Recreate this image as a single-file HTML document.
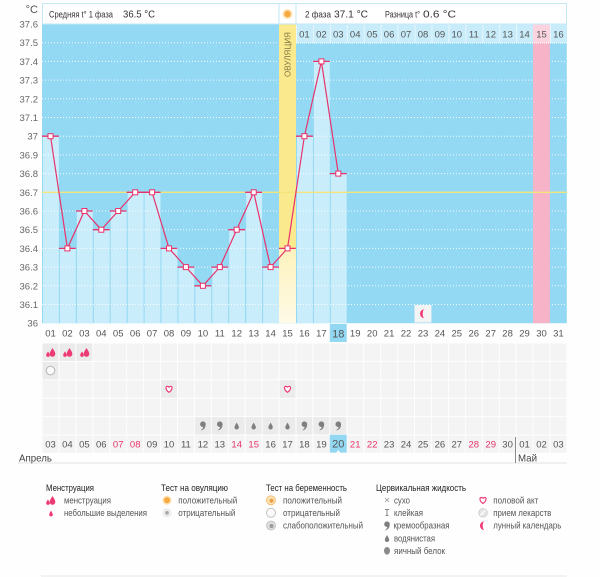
<!DOCTYPE html>
<html><head><meta charset="utf-8"><style>
html,body{margin:0;padding:0;background:#fefefe;}
svg{display:block;}
text{font-family:"Liberation Sans","DejaVu Sans",sans-serif;}
</style></head><body>
<svg width="600" height="577" viewBox="0 0 600 577" xmlns="http://www.w3.org/2000/svg">
<defs>
<pattern id="g" x="42" y="343" width="16.935" height="18.4" patternUnits="userSpaceOnUse"><rect x="0.5" y="0.5" width="15.9" height="17.4" fill="#f4f4f4"/></pattern>
<pattern id="hd" x="296" y="24" width="16.935" height="19" patternUnits="userSpaceOnUse"><rect x="0" y="0" width="16.935" height="19" fill="#c8ecfa"/><rect x="0" y="0" width="1" height="19" fill="#e6f7fd"/></pattern>
<linearGradient id="ly" x1="0" y1="0" x2="0" y2="1"><stop offset="0" stop-color="#fdf2bd"/><stop offset="1" stop-color="#fefae6"/></linearGradient>
</defs>
<rect width="600" height="577" fill="#fefefe"/>
<!-- chart body -->
<rect x="42" y="24" width="524.8" height="299.2" fill="#94d9f3"/>
<!-- bars -->
<g fill="#c9edfb">
<rect x="43" y="136.2" width="15.9" height="187"/>
<rect x="59.9" y="248.4" width="15.9" height="74.8"/>
<rect x="76.9" y="211" width="15.9" height="112.2"/>
<rect x="93.8" y="229.7" width="15.9" height="93.5"/>
<rect x="110.7" y="211" width="15.9" height="112.2"/>
<rect x="127.7" y="192.3" width="15.9" height="130.9"/>
<rect x="144.6" y="192.3" width="15.9" height="130.9"/>
<rect x="161.5" y="248.4" width="15.9" height="74.8"/>
<rect x="178.4" y="267.1" width="15.9" height="56.1"/>
<rect x="195.4" y="285.8" width="15.9" height="37.4"/>
<rect x="212.3" y="267.1" width="15.9" height="56.1"/>
<rect x="229.2" y="229.7" width="15.9" height="93.5"/>
<rect x="246.2" y="192.3" width="15.9" height="130.9"/>
<rect x="263.1" y="267.1" width="15.9" height="56.1"/>
<rect x="297" y="136.2" width="15.9" height="187"/>
<rect x="313.9" y="61.4" width="15.9" height="261.8"/>
<rect x="330.8" y="173.6" width="15.9" height="149.6"/>
</g>
<!-- dotted grid -->
<g stroke="#ffffff" stroke-width="1" stroke-dasharray="1 2" opacity="0.9">
<path d="M42,42.7H566.8M42,61.4H566.8M42,80.1H566.8M42,98.8H566.8M42,117.5H566.8M42,136.2H566.8M42,154.9H566.8M42,173.6H566.8M42,211H566.8M42,229.7H566.8M42,248.4H566.8M42,267.1H566.8M42,285.8H566.8M42,304.5H566.8"/>
</g>
<!-- ovulation column -->
<rect x="279" y="24" width="17" height="224.4" fill="#fbe98e"/>
<rect x="279" y="248.4" width="17" height="74.8" fill="url(#ly)"/>
<text transform="translate(290.5,54.5) rotate(-90)" text-anchor="middle" font-size="8.5" fill="#7f7444" textLength="45" lengthAdjust="spacingAndGlyphs">ОВУЛЯЦИЯ</text>
<!-- pink column -->
<rect x="533" y="43" width="16.9" height="280.2" fill="#f7b3c7"/>
<!-- header day row -->
<rect x="296" y="24" width="270.8" height="19" fill="url(#hd)"/>
<rect x="533" y="24" width="16.9" height="19" fill="#fcd4df"/>
<path d="M296,43H566.8" stroke="#ffffff" stroke-dasharray="1 1" stroke-width="1"/>
<g font-size="9.5" fill="#555" text-anchor="middle">
<text x="304.4" y="37.5">01</text><text x="321.4" y="37.5">02</text><text x="338.3" y="37.5">03</text><text x="355.2" y="37.5">04</text><text x="372.2" y="37.5">05</text><text x="389.1" y="37.5">06</text><text x="406" y="37.5">07</text><text x="423" y="37.5">08</text><text x="439.9" y="37.5">09</text><text x="456.8" y="37.5">10</text><text x="473.8" y="37.5">11</text><text x="490.7" y="37.5">12</text><text x="507.6" y="37.5">13</text><text x="524.5" y="37.5">14</text><text x="541.5" y="37.5">15</text><text x="558.4" y="37.5">16</text>
</g>
<!-- cover line -->
<path d="M42,192.3H566.8" stroke="#f4e47a" stroke-width="1.3"/>
<!-- ticks -->
<path d="M42,136.2h16.9M58.9,248.4h16.9M75.9,211h16.9M92.8,229.7h16.9M109.7,211h16.9M126.7,192.3h16.9M143.6,192.3h16.9M160.5,248.4h16.9M177.4,267.1h16.9M194.4,285.8h16.9M211.3,267.1h16.9M228.2,229.7h16.9M245.2,192.3h16.9M262.1,267.1h16.9M279,248.4h16.9M296,136.2h16.9M312.9,61.4h16.9M329.8,173.6h16.9" stroke="#e8336b" stroke-width="1.3"/>
<polyline points="50.5,136.2 67.4,248.4 84.4,211 101.3,229.7 118.2,211 135.2,192.3 152.1,192.3 169,248.4 185.9,267.1 202.9,285.8 219.8,267.1 236.7,229.7 253.7,192.3 270.6,267.1 287.5,248.4 304.4,136.2 321.4,61.4 338.3,173.6" fill="none" stroke="#e8336b" stroke-width="1.2"/>
<g fill="#ffffff" stroke="#e8336b" stroke-width="1">
<rect x="48" y="133.7" width="5" height="5"/><rect x="64.9" y="245.9" width="5" height="5"/><rect x="81.9" y="208.5" width="5" height="5"/><rect x="98.8" y="227.2" width="5" height="5"/><rect x="115.7" y="208.5" width="5" height="5"/><rect x="132.7" y="189.8" width="5" height="5"/><rect x="149.6" y="189.8" width="5" height="5"/><rect x="166.5" y="245.9" width="5" height="5"/><rect x="183.4" y="264.6" width="5" height="5"/><rect x="200.4" y="283.3" width="5" height="5"/><rect x="217.3" y="264.6" width="5" height="5"/><rect x="234.2" y="227.2" width="5" height="5"/><rect x="251.2" y="189.8" width="5" height="5"/><rect x="268.1" y="264.6" width="5" height="5"/><rect x="285" y="245.9" width="5" height="5"/><rect x="301.9" y="133.7" width="5" height="5"/><rect x="318.9" y="58.9" width="5" height="5"/><rect x="335.8" y="171.1" width="5" height="5"/>
</g>
<!-- lunar cell -->
<rect x="414.5" y="305" width="16.9" height="17.5" fill="#f4f4f4"/>
<path transform="translate(423.5,313.7)" d="M1,-4.5A4.5,4.5 0 0 0 1,4.5A1.8,4.5 0 0 1 1,-4.5Z" fill="#ee3a74"/>
<!-- header boxes -->
<rect x="42.5" y="3.5" width="524" height="20.5" fill="#ffffff" stroke="#c3e7f5" stroke-width="1"/>
<path d="M279,3.5V24M296,3.5V24" stroke="#c3e7f5" stroke-width="1"/>
<circle cx="287.5" cy="14" r="5" fill="#fde3b3"/>
<circle cx="287.5" cy="14" r="3.3" fill="#f6a843"/>
<text x="49" y="17.5" font-size="9" fill="#333" textLength="64" lengthAdjust="spacingAndGlyphs">Средняя t° 1 фаза</text>
<text x="123" y="17.5" font-size="10.5" fill="#333" textLength="32" lengthAdjust="spacingAndGlyphs">36.5 °C</text>
<text x="305" y="17.5" font-size="9" fill="#333" textLength="26" lengthAdjust="spacingAndGlyphs">2 фаза</text>
<text x="334" y="17.5" font-size="10.5" fill="#333" textLength="34" lengthAdjust="spacingAndGlyphs">37.1 °C</text>
<text x="385" y="17.5" font-size="9" fill="#333" textLength="35" lengthAdjust="spacingAndGlyphs">Разница t°</text>
<text x="423" y="17.5" font-size="10.5" fill="#333" textLength="33" lengthAdjust="spacingAndGlyphs">0.6 °C</text>
<!-- y axis -->
<text x="38" y="13" font-size="11" fill="#555" text-anchor="end">°C</text>
<g font-size="9.5" fill="#666" text-anchor="end">
<text x="38" y="27.5">37.6</text><text x="38" y="46.2">37.5</text><text x="38" y="64.9">37.4</text><text x="38" y="83.6">37.3</text><text x="38" y="102.3">37.2</text><text x="38" y="121">37.1</text><text x="38" y="139.7">37</text><text x="38" y="158.4">36.9</text><text x="38" y="177.1">36.8</text><text x="38" y="195.8">36.7</text><text x="38" y="214.5">36.6</text><text x="38" y="233.2">36.5</text><text x="38" y="251.9">36.4</text><text x="38" y="270.6">36.3</text><text x="38" y="289.3">36.2</text><text x="38" y="308">36.1</text><text x="38" y="326.7">36</text>
</g>
<!-- x labels (cycle days) -->
<rect x="329.8" y="324" width="16.9" height="18" fill="#93d8f2"/>
<g font-size="9.5" fill="#555" text-anchor="middle">
<text x="50.5" y="336.5">01</text><text x="67.4" y="336.5">02</text><text x="84.4" y="336.5">03</text><text x="101.3" y="336.5">04</text><text x="118.2" y="336.5">05</text><text x="135.2" y="336.5">06</text><text x="152.1" y="336.5">07</text><text x="169" y="336.5">08</text><text x="185.9" y="336.5">09</text><text x="202.9" y="336.5">10</text><text x="219.8" y="336.5">11</text><text x="236.7" y="336.5">12</text><text x="253.7" y="336.5">13</text><text x="270.6" y="336.5">14</text><text x="287.5" y="336.5">15</text><text x="304.4" y="336.5">16</text><text x="321.4" y="336.5">17</text><text x="338.3" y="337.5" font-size="11">18</text><text x="355.2" y="336.5">19</text><text x="372.2" y="336.5">20</text><text x="389.1" y="336.5">21</text><text x="406" y="336.5">22</text><text x="423" y="336.5">23</text><text x="439.9" y="336.5">24</text><text x="456.8" y="336.5">25</text><text x="473.8" y="336.5">26</text><text x="490.7" y="336.5">27</text><text x="507.6" y="336.5">28</text><text x="524.5" y="336.5">29</text><text x="541.5" y="336.5">30</text><text x="558.4" y="336.5">31</text>
</g>
<!-- symptom grid -->
<rect x="42" y="343" width="524.8" height="110.4" fill="url(#g)"/>
<g fill="#ebebeb">
<rect x="42.5" y="343.5" width="15.9" height="17.4"/><rect x="59.4" y="343.5" width="15.9" height="17.4"/><rect x="76.4" y="343.5" width="15.9" height="17.4"/>
<rect x="42.5" y="361.9" width="15.9" height="17.4"/>
<rect x="161" y="380.3" width="15.9" height="17.4"/><rect x="279.5" y="380.3" width="15.9" height="17.4"/>
<rect x="194.9" y="417.1" width="15.9" height="17.4"/><rect x="211.8" y="417.1" width="15.9" height="17.4"/><rect x="228.7" y="417.1" width="15.9" height="17.4"/><rect x="245.7" y="417.1" width="15.9" height="17.4"/><rect x="262.6" y="417.1" width="15.9" height="17.4"/><rect x="279.5" y="417.1" width="15.9" height="17.4"/><rect x="296.5" y="417.1" width="15.9" height="17.4"/><rect x="313.4" y="417.1" width="15.9" height="17.4"/><rect x="330.3" y="417.1" width="15.9" height="17.4"/>
</g>
<!-- menstruation icons -->
<g fill="#ee3a74">
<g transform="translate(51,352.5)"><path d="M1.5,-4.5C3,-2 4.3,-0.5 4.3,1.5A2.8,2.8 0 0 1 -1.3,1.5C-1.3,-0.5 0,-2 1.5,-4.5Z"/><path d="M-3,-1C-2,0.5 -1.2,1.5 -1.2,2.6A1.8,1.8 0 0 1 -4.8,2.6C-4.8,1.5 -4,0.5 -3,-1Z"/></g>
<g transform="translate(68,352.5)"><path d="M1.5,-4.5C3,-2 4.3,-0.5 4.3,1.5A2.8,2.8 0 0 1 -1.3,1.5C-1.3,-0.5 0,-2 1.5,-4.5Z"/><path d="M-3,-1C-2,0.5 -1.2,1.5 -1.2,2.6A1.8,1.8 0 0 1 -4.8,2.6C-4.8,1.5 -4,0.5 -3,-1Z"/></g>
<g transform="translate(85,352.5)"><path d="M1.5,-4.5C3,-2 4.3,-0.5 4.3,1.5A2.8,2.8 0 0 1 -1.3,1.5C-1.3,-0.5 0,-2 1.5,-4.5Z"/><path d="M-3,-1C-2,0.5 -1.2,1.5 -1.2,2.6A1.8,1.8 0 0 1 -4.8,2.6C-4.8,1.5 -4,0.5 -3,-1Z"/></g>
</g>
<circle cx="50.5" cy="370.6" r="4.3" fill="#fafafa" stroke="#b5b5b5" stroke-width="1"/>
<g fill="#ffffff" stroke="#ee3a74" stroke-width="1.2">
<path transform="translate(169,389.3)" d="M0,3C-3.6,0.5 -3.8,-3 -1.7,-3C-0.8,-3 0,-2.3 0,-1.7C0,-2.3 0.8,-3 1.7,-3C3.8,-3 3.6,0.5 0,3Z"/>
<path transform="translate(287.5,389.3)" d="M0,3C-3.6,0.5 -3.8,-3 -1.7,-3C-0.8,-3 0,-2.3 0,-1.7C0,-2.3 0.8,-3 1.7,-3C3.8,-3 3.6,0.5 0,3Z"/>
</g>
<!-- cervical fluid icons -->
<g fill="#7f7f7f">
<g transform="translate(202.9,425)"><circle cx="0" cy="-0.8" r="2.8"/><path d="M2.6,-0.3C2.8,3 0.5,5 -2.3,5.4C-0.5,4 0.6,2.6 0.2,1.6Z"/></g>
<g transform="translate(219.8,425)"><circle cx="0" cy="-0.8" r="2.8"/><path d="M2.6,-0.3C2.8,3 0.5,5 -2.3,5.4C-0.5,4 0.6,2.6 0.2,1.6Z"/></g>
<path transform="translate(236.7,426)" d="M0,-3.5C1,-1.5 2.2,0 2.2,1.3A2.2,2.2 0 0 1 -2.2,1.3C-2.2,0 -1,-1.5 0,-3.5Z"/>
<path transform="translate(253.7,426)" d="M0,-3.5C1,-1.5 2.2,0 2.2,1.3A2.2,2.2 0 0 1 -2.2,1.3C-2.2,0 -1,-1.5 0,-3.5Z"/>
<path transform="translate(270.6,426)" d="M0,-3.5C1,-1.5 2.2,0 2.2,1.3A2.2,2.2 0 0 1 -2.2,1.3C-2.2,0 -1,-1.5 0,-3.5Z"/>
<path transform="translate(287.5,426)" d="M0,-3.5C1,-1.5 2.2,0 2.2,1.3A2.2,2.2 0 0 1 -2.2,1.3C-2.2,0 -1,-1.5 0,-3.5Z"/>
<g transform="translate(304.4,425)"><circle cx="0" cy="-0.8" r="2.8"/><path d="M2.6,-0.3C2.8,3 0.5,5 -2.3,5.4C-0.5,4 0.6,2.6 0.2,1.6Z"/></g>
<g transform="translate(321.4,425)"><circle cx="0" cy="-0.8" r="2.8"/><path d="M2.6,-0.3C2.8,3 0.5,5 -2.3,5.4C-0.5,4 0.6,2.6 0.2,1.6Z"/></g>
<g transform="translate(338.3,425)"><circle cx="0" cy="-0.8" r="2.8"/><path d="M2.6,-0.3C2.8,3 0.5,5 -2.3,5.4C-0.5,4 0.6,2.6 0.2,1.6Z"/></g>
</g>
<!-- calendar dates -->
<rect x="329.8" y="434.8" width="16.9" height="17.8" fill="#93d8f2"/>
<path d="M336.3,452.6L340.3,452.6L338.3,450Z" fill="#ffffff"/>
<g font-size="9.5" fill="#555" text-anchor="middle">
<text x="50.5" y="447.5">03</text><text x="67.4" y="447.5">04</text><text x="84.4" y="447.5">05</text><text x="101.3" y="447.5">06</text><text x="118.2" y="447.5" fill="#e8336b">07</text><text x="135.2" y="447.5" fill="#e8336b">08</text><text x="152.1" y="447.5">09</text><text x="169" y="447.5">10</text><text x="185.9" y="447.5">11</text><text x="202.9" y="447.5">12</text><text x="219.8" y="447.5">13</text><text x="236.7" y="447.5" fill="#e8336b">14</text><text x="253.7" y="447.5" fill="#e8336b">15</text><text x="270.6" y="447.5">16</text><text x="287.5" y="447.5">17</text><text x="304.4" y="447.5">18</text><text x="321.4" y="447.5">19</text><text x="338.3" y="447.5" font-size="11">20</text><text x="355.2" y="447.5" fill="#e8336b">21</text><text x="372.2" y="447.5" fill="#e8336b">22</text><text x="389.1" y="447.5">23</text><text x="406" y="447.5">24</text><text x="423" y="447.5">25</text><text x="439.9" y="447.5">26</text><text x="456.8" y="447.5">27</text><text x="473.8" y="447.5" fill="#e8336b">28</text><text x="490.7" y="447.5" fill="#e8336b">29</text><text x="507.6" y="447.5">30</text><text x="524.5" y="447.5">01</text><text x="541.5" y="447.5">02</text><text x="558.4" y="447.5">03</text>
</g>
<path d="M18,463H566.8" stroke="#e2e2e2" stroke-width="1"/>
<path d="M515.5,437V463" stroke="#8a8a8a" stroke-width="1"/>
<text x="19" y="461.5" font-size="10.5" fill="#444" textLength="33" lengthAdjust="spacingAndGlyphs">Апрель</text>
<text x="518" y="461.5" font-size="10.5" fill="#444" textLength="19" lengthAdjust="spacingAndGlyphs">Май</text>
<!-- legend -->
<g font-size="9" fill="#222">
<text x="46" y="491" textLength="48" lengthAdjust="spacingAndGlyphs">Менструация</text>
<text x="161" y="491" textLength="67" lengthAdjust="spacingAndGlyphs">Тест на овуляцию</text>
<text x="266" y="491" textLength="81" lengthAdjust="spacingAndGlyphs">Тест на беременность</text>
<text x="376" y="491" textLength="90" lengthAdjust="spacingAndGlyphs">Цервикальная жидкость</text>
</g>
<g font-size="9" fill="#555">
<text x="64" y="503.5" textLength="47" lengthAdjust="spacingAndGlyphs">менструация</text>
<text x="64" y="516" textLength="83" lengthAdjust="spacingAndGlyphs">небольшие выделения</text>
<text x="178.3" y="503.5" textLength="59" lengthAdjust="spacingAndGlyphs">положительный</text>
<text x="178.3" y="516" textLength="57" lengthAdjust="spacingAndGlyphs">отрицательный</text>
<text x="283" y="503.5" textLength="59" lengthAdjust="spacingAndGlyphs">положительный</text>
<text x="283" y="516" textLength="57" lengthAdjust="spacingAndGlyphs">отрицательный</text>
<text x="283" y="528.7" textLength="80" lengthAdjust="spacingAndGlyphs">слабоположительный</text>
<text x="394" y="503.5" textLength="16" lengthAdjust="spacingAndGlyphs">сухо</text>
<text x="394" y="516" textLength="29" lengthAdjust="spacingAndGlyphs">клейкая</text>
<text x="393.5" y="528.7" textLength="56" lengthAdjust="spacingAndGlyphs">кремообразная</text>
<text x="394" y="541.4" textLength="41" lengthAdjust="spacingAndGlyphs">водянистая</text>
<text x="394" y="554" textLength="51" lengthAdjust="spacingAndGlyphs">яичный белок</text>
<text x="493.3" y="503.5" textLength="45" lengthAdjust="spacingAndGlyphs">половой акт</text>
<text x="493.3" y="516" textLength="58" lengthAdjust="spacingAndGlyphs">прием лекарств</text>
<text x="493.3" y="528.7" textLength="68" lengthAdjust="spacingAndGlyphs">лунный календарь</text>
</g>
<!-- legend icons -->
<g fill="#ee3a74" transform="translate(51,500.5)"><path d="M1.5,-4.5C3,-2 4.3,-0.5 4.3,1.5A2.8,2.8 0 0 1 -1.3,1.5C-1.3,-0.5 0,-2 1.5,-4.5Z"/><path d="M-3,-1C-2,0.5 -1.2,1.5 -1.2,2.6A1.8,1.8 0 0 1 -4.8,2.6C-4.8,1.5 -4,0.5 -3,-1Z"/></g>
<path transform="translate(51,513.5)" d="M0,-3C0.8,-1.3 1.8,0 1.8,1.1A1.8,1.8 0 0 1 -1.8,1.1C-1.8,0 -0.8,-1.3 0,-3Z" fill="#ee3a74"/>
<circle cx="167" cy="500.3" r="4.6" fill="#fde3b3"/><circle cx="167" cy="500.3" r="3" fill="#f6a843"/>
<circle cx="167" cy="512.8" r="4.6" fill="#ececec"/><circle cx="167" cy="512.8" r="1.8" fill="#a5a5a5"/>
<circle cx="271" cy="500.3" r="4.5" fill="#fde3b3" stroke="#f2b869" stroke-width="0.8"/><circle cx="271.5" cy="500.8" r="2" fill="#e9a04a"/>
<circle cx="271" cy="512.8" r="4.5" fill="#fafafa" stroke="#bdbdbd" stroke-width="0.9"/>
<circle cx="271" cy="525.5" r="4.5" fill="#dedede" stroke="#bdbdbd" stroke-width="0.8"/><circle cx="271.5" cy="526" r="2" fill="#9a9a9a"/>
<path d="M385,498L389,502M389,498L385,502" stroke="#aaa" stroke-width="0.9"/>
<path d="M385,509.5H389M387,509.5V515.5M385.5,515.5H388.5" stroke="#888" stroke-width="1"/>
<g fill="#7f7f7f" transform="translate(387,525)"><circle cx="0" cy="-0.8" r="2.8"/><path d="M2.6,-0.3C2.8,3 0.5,5 -2.3,5.4C-0.5,4 0.6,2.6 0.2,1.6Z"/></g>
<path transform="translate(387,538.5)" d="M0,-3.5C1,-1.5 2.2,0 2.2,1.3A2.2,2.2 0 0 1 -2.2,1.3C-2.2,0 -1,-1.5 0,-3.5Z" fill="#7f7f7f"/>
<ellipse cx="387" cy="550.8" rx="3" ry="3.8" fill="#8a8a8a"/>
<path transform="translate(483,500.5)" d="M0,3C-3.6,0.5 -3.8,-3 -1.7,-3C-0.8,-3 0,-2.3 0,-1.7C0,-2.3 0.8,-3 1.7,-3C3.8,-3 3.6,0.5 0,3Z" fill="#fff" stroke="#ee3a74" stroke-width="1.2"/>
<circle cx="483" cy="512.8" r="4.3" fill="#e6e6e6" stroke="#c8c8c8" stroke-width="0.8"/><path d="M480.3,515.5L485.7,510.1" stroke="#fff" stroke-width="1.2"/>
<path transform="translate(483.5,525.7)" d="M1,-4.5A4.5,4.5 0 0 0 1,4.5A1.8,4.5 0 0 1 1,-4.5Z" fill="#ee3a74"/>
<path d="M41,576H566.8" stroke="#e6e6e6" stroke-width="1"/>
</svg>
</body></html>
